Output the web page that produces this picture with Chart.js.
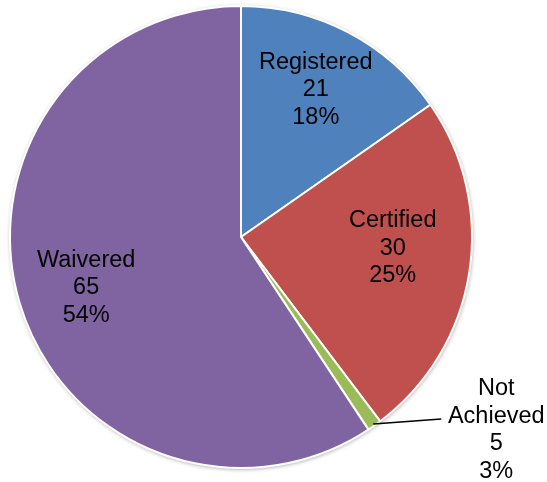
<!DOCTYPE html>
<html lang="en">
  <head>
    <meta charset="UTF-8" />
    <title>Status pie</title>
    <style>
      body {
        margin: 0;
        background: #fff;
      }
    </style>
    <script src="https://cdn.jsdelivr.net/npm/chart.js"></script>
  </head>
  <body>
    <canvas id="pie" width="547" height="482"></canvas>

    <script>
      // slice names, counts and printed percents as shown in the labels
      const categories = ["Registered", "Certified", "Not Achieved", "Waivered"];
      const counts = [21, 30, 5, 65];
      const percents = ["18%", "25%", "3%", "54%"];
      // slice sizes as drawn in the picture (share of the circle, %)
      const shares = [15.3, 24.4, 1.0, 59.3];
      const colors = ["#4F81BD", "#C0504D", "#9BBB59", "#8064A2"];

      const FONT = '23.5px "Liberation Sans", Arial, sans-serif';
      const LINE = 27.5;
      // small hand nudges to match where the labels sit (px)
      const nudge = [[0, -4], [-8, -14], [0, 0], [0, 4]];

      function drawBlock(ctx, lines, x, y) {
        const top = y - ((lines.length - 1) * LINE) / 2;
        lines.forEach((t, i) => {
          ctx.fillText(t, x, top + i * LINE);
        });
      }

      // soft grey halo behind the pie
      const shadowPlugin = {
        id: "halo",
        beforeDatasetsDraw(chart) {
          const arc = chart.getDatasetMeta(0).data[0];
          if (!arc) return;
          const ctx = chart.ctx;
          ctx.save();
          ctx.shadowColor = "rgba(0,0,0,0.4)";
          ctx.shadowBlur = 4;
          ctx.shadowOffsetX = 0.5;
          ctx.shadowOffsetY = 1;
          ctx.fillStyle = "#fff";
          ctx.beginPath();
          ctx.arc(arc.x, arc.y, arc.outerRadius, 0, Math.PI * 2);
          ctx.fill();
          ctx.restore();
        },
      };

      const labelPlugin = {
        id: "sliceLabels",
        afterDatasetsDraw(chart) {
          const ctx = chart.ctx;
          const meta = chart.getDatasetMeta(0);
          ctx.save();
          ctx.font = FONT;
          ctx.fillStyle = "#000";
          ctx.textAlign = "center";
          ctx.textBaseline = "middle";
          meta.data.forEach((arc, i) => {
            const mid = (arc.startAngle + arc.endAngle) / 2;
            const span = arc.endAngle - arc.startAngle;
            const lines = categories[i].split(" ");
            lines.push(String(counts[i]), percents[i]);
            if (span < 0.2) {
              // small slice: leader line out to the right
              const sx = arc.x + Math.cos(mid) * (arc.outerRadius - 2);
              const sy = arc.y + Math.sin(mid) * (arc.outerRadius - 2);
              const ex = sx + 68;
              const ey = sy - 5;
              ctx.strokeStyle = "#000";
              ctx.lineWidth = 1.5;
              ctx.beginPath();
              ctx.moveTo(sx, sy);
              ctx.lineTo(ex, ey);
              ctx.stroke();
              drawBlock(ctx, lines, ex + 55, ey + 11);
            } else {
              const r = arc.outerRadius * 0.7;
              drawBlock(
                ctx,
                lines,
                arc.x + Math.cos(mid) * r + nudge[i][0],
                arc.y + Math.sin(mid) * r + nudge[i][1]
              );
            }
          });
          ctx.restore();
        },
      };

      new Chart(document.getElementById("pie"), {
        type: "pie",
        data: {
          labels: categories,
          datasets: [
            {
              data: shares,
              backgroundColor: colors,
              borderColor: "#fff",
              borderWidth: 2,
              radius: 231,
            },
          ],
        },
        options: {
          responsive: false,
          animation: false,
          layout: { padding: { left: 10, right: 75, top: 6, bottom: 14 } },
          plugins: {
            legend: { display: false },
            tooltip: { enabled: false },
          },
        },
        plugins: [shadowPlugin, labelPlugin],
      });
    </script>
  </body>
</html>
